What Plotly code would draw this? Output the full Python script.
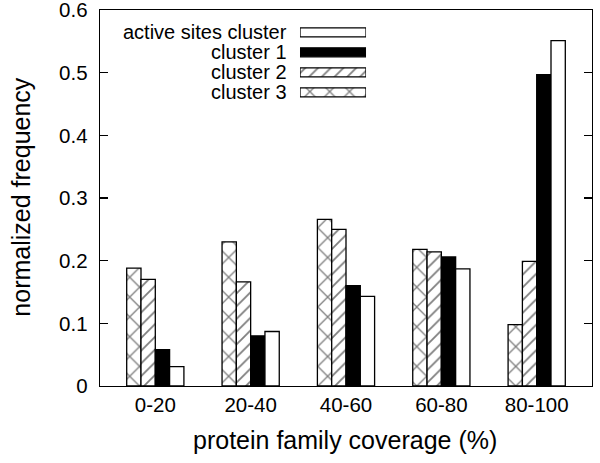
import plotly.graph_objects as go

categories = ["0-20", "20-40", "40-60", "60-80", "80-100"]
series_names = ["cluster 3", "cluster 2", "cluster 1", "active sites cluster"]
cluster3 = [0.188, 0.230, 0.266, 0.218, 0.098]
cluster2 = [0.170, 0.166, 0.250, 0.214, 0.199]
cluster1 = [0.058, 0.080, 0.160, 0.206, 0.497]
active_sites = [0.031, 0.087, 0.143, 0.187, 0.551]
y_ticks = [0, 0.1, 0.2, 0.3, 0.4, 0.5, 0.6]
y_ticktext = ["0", "0.1", "0.2", "0.3", "0.4", "0.5", "0.6"]
x_title = "protein family coverage (%)"
y_title = "normalized frequency"

values = [cluster3, cluster2, cluster1, active_sites]
styles = [
    dict(color="white", pattern=dict(shape="x", fgcolor="black", bgcolor="white", size=14, solidity=0.18)),
    dict(color="white", pattern=dict(shape="/", fgcolor="black", bgcolor="white", size=9, solidity=0.2)),
    dict(color="black"),
    dict(color="white"),
]

FONT = "Liberation Sans, Arial, Helvetica, sans-serif"
xpos = list(range(len(categories)))

fig = go.Figure()
for name, vals, st in zip(series_names, values, styles):
    fig.add_trace(go.Bar(
        x=xpos, y=vals, name=name, showlegend=False,
        marker=dict(line=dict(color="black", width=1.3), **st),
    ))

# custom legend (label on the left, sample on the right), order top->bottom
legend_order = [3, 2, 1, 0]
for row, idx in enumerate(legend_order):
    fig.add_trace(go.Bar(
        x=[1], y=[row], orientation="h", xaxis="x2", yaxis="y2",
        showlegend=False, width=0.45, hoverinfo="skip",
        marker=dict(line=dict(color="black", width=1.3), **styles[idx]),
    ))
    fig.add_annotation(
        x=0.385, y=row, xref="paper", yref="y2", xanchor="right", yanchor="middle",
        text=series_names[idx], showarrow=False,
        font=dict(family=FONT, size=20, color="black"),
    )

# axis titles
fig.add_annotation(x=0.498, y=-0.1436, xref="paper", yref="paper",
                   xanchor="center", yanchor="middle", showarrow=False,
                   text=x_title, font=dict(family=FONT, size=25, color="black"))
fig.add_annotation(x=-0.161, y=0.503, xref="paper", yref="paper",
                   xanchor="center", yanchor="middle", showarrow=False, textangle=-90,
                   text=y_title, font=dict(family=FONT, size=25, color="black"))

fig.update_layout(
    width=600, height=463,
    margin=dict(l=100, r=8, t=10, b=77, autoexpand=False),
    plot_bgcolor="white", paper_bgcolor="white",
    barmode="group", bargap=0.4, bargroupgap=0,
    font=dict(family=FONT, size=20.5, color="black"),
    xaxis=dict(
        range=[-0.58, 4.58], tickvals=xpos, ticktext=categories,
        showline=True, linecolor="black", linewidth=1.3, mirror=True,
        ticks="", showgrid=False, zeroline=False, automargin=False,
        tickfont=dict(size=20.5), ticklabeloverflow="allow",
    ),
    yaxis=dict(
        range=[0, 0.6], tickvals=y_ticks, ticktext=y_ticktext,
        showline=True, linecolor="black", linewidth=1.3, mirror="ticks",
        ticks="inside", ticklen=8, tickcolor="black", tickwidth=1.2,
        showgrid=False, zeroline=False, automargin=False,
        tickfont=dict(size=20.5), ticklabeloverflow="allow", ticklabelstandoff=7,
    ),
    xaxis2=dict(domain=[0.4065, 0.5407], range=[0, 1], visible=False, anchor="y2"),
    yaxis2=dict(domain=[0.7545, 0.9673], range=[3.5, -0.5], visible=False, anchor="x2"),
)

fig.write_html(
    "out.html",
    config={"displayModeBar": False, "staticPlot": True},
    post_script="document.body.style.margin='0';document.body.style.overflow='hidden';",
)
